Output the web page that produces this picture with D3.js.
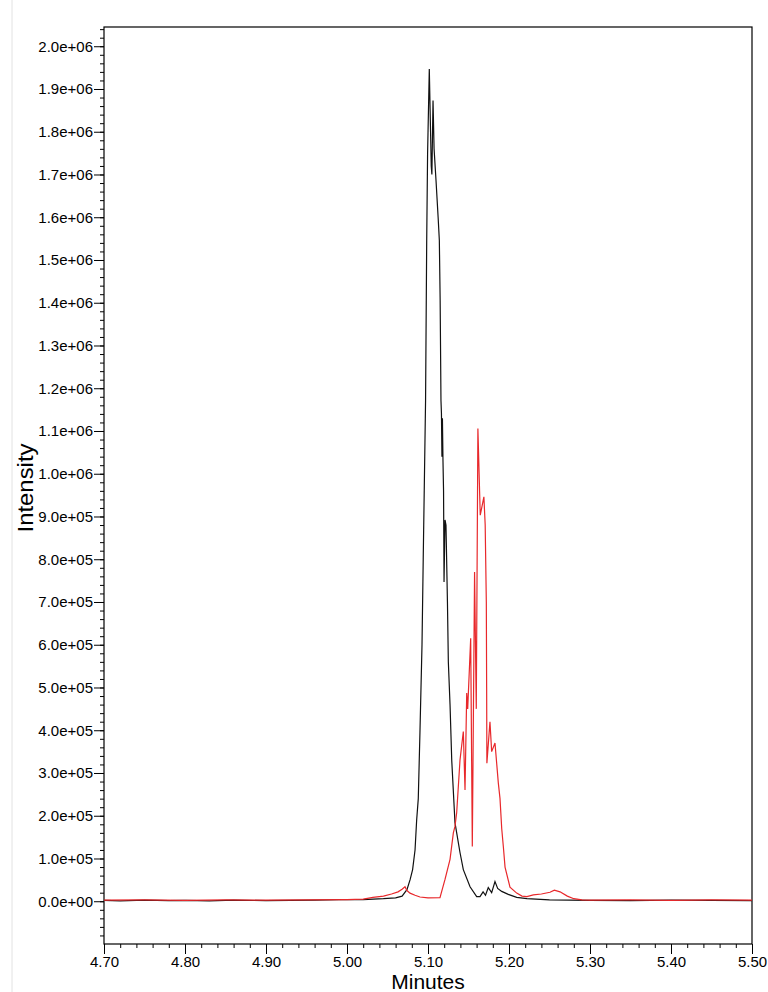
<!DOCTYPE html>
<html>
<head>
<meta charset="utf-8">
<script src="https://cdn.jsdelivr.net/npm/d3@7"></script>
<style>
  body { margin: 0; background: #fff; }
  svg { display: block; font-family: "Liberation Sans", Arial, Helvetica, sans-serif; }
  .axis path, .axis line { stroke: #000; }
  .axis text { fill: #000; font-size: 15px; }
</style>
</head>
<body>
<div id="output"></div>
<script>
(function () {

"use strict";

// retention time (minutes) and intensity for the black trace
var blackTimes = [ 4.700, 4.720, 4.750, 4.780, 4.800, 4.830, 4.860, 4.900, 4.930, 4.960, 4.990, 5.020, 5.045, 5.060, 5.068,
  5.074, 5.078, 5.081, 5.084, 5.086, 5.088, 5.090, 5.0926, 5.0941, 5.0970, 5.0984, 5.0995, 5.1016, 5.1040, 5.1048, 5.1062,
  5.1075, 5.1099, 5.1125, 5.1140, 5.1150, 5.1160, 5.1166, 5.1172, 5.1178, 5.1185, 5.1192, 5.1198, 5.1210, 5.1222, 5.1240,
  5.1251, 5.1272, 5.1293, 5.1333, 5.1395, 5.1436, 5.1519, 5.1601, 5.1642, 5.1680, 5.1710, 5.1744, 5.1786, 5.1827, 5.1860,
  5.1910, 5.1991, 5.2095, 5.2222, 5.2500, 5.3000, 5.3500, 5.4000, 5.4500, 5.5000 ]
var blackValues = [ 2000, 1000, 2500, 1500, 2000, 1000, 2500, 1500, 2000, 2500, 3500, 4000, 6000, 8000, 12000,
  27000, 51000, 74000, 120000, 190000, 240000, 390000, 600000, 800000, 1172000, 1546000, 1750000, 1947000, 1720000, 1700000, 1873000,
  1760000, 1686000, 1600000, 1546000, 1406000, 1172000, 1141000, 1040000, 1130000, 1030000, 960000, 747000, 892000, 880000, 700000,
  560000, 460000, 330000, 184000, 114000, 74000, 34000, 11000, 11000, 22000, 14000, 32000, 20000, 46000, 30000,
  23000, 16000, 9000, 6000, 3000, 2000, 1500, 2500, 2000, 1500 ]

// retention time (minutes) and intensity for the red trace
var redTimes = [ 4.700, 4.750, 4.800, 4.850, 4.900, 4.950, 5.000, 5.020, 5.032, 5.045, 5.055, 5.063, 5.068, 5.0716, 5.074,
  5.0778, 5.084, 5.0901, 5.1000, 5.1148, 5.1210, 5.1272, 5.1313, 5.1333, 5.1354, 5.1395, 5.1436, 5.1457, 5.1478, 5.1490,
  5.1527, 5.1547, 5.1575, 5.1596, 5.1616, 5.1645, 5.1690, 5.1706, 5.1720, 5.1724, 5.1727, 5.1765, 5.1786, 5.1827, 5.1868,
  5.1889, 5.1910, 5.1930, 5.1951, 5.2012, 5.2095, 5.2160, 5.2222, 5.2300, 5.2400, 5.2506, 5.2560, 5.2630, 5.2720, 5.2800,
  5.2900, 5.3000, 5.3500, 5.4000, 5.4500, 5.5000 ]
var redValues = [ 2500, 3000, 2000, 3000, 2500, 3000, 4000, 5000, 8900, 12000, 17000, 22000, 28000, 34000, 25000,
  19000, 14000, 10000, 8000, 8600, 51000, 98000, 160000, 175000, 207000, 330000, 397000, 260000, 487000, 450000,
  615000, 128000, 770000, 450000, 1106000, 903000, 946000, 880000, 700000, 500000, 323000, 420000, 350000, 370000, 277000,
  240000, 170000, 128000, 80000, 33000, 19000, 12000, 11000, 15000, 17000, 21000, 26000, 22000, 12000, 6000,
  3000, 2500, 3000, 2000, 3000, 2500 ]

var xTicks = [ 4.70, 4.80, 4.90, 5.00, 5.10, 5.20, 5.30, 5.40, 5.50 ]
var yTicks = [ 0, 1e5, 2e5, 3e5, 4e5, 5e5, 6e5, 7e5, 8e5, 9e5, 1e6, 1.1e6, 1.2e6, 1.3e6, 1.4e6, 1.5e6, 1.6e6, 1.7e6, 1.8e6, 1.9e6, 2e6 ]

var width = 768
  , height = 992
  , left = 104, right = 752, top = 27, bottom = 944

var svg = d3.select("#output").append("svg").attr("width", width).attr("height", height)

// faint page edge on the left
svg.append("line")
  .attr("x1", 12).attr("x2", 12).attr("y1", 0).attr("y2", height)
  .style("stroke", "#e2e2e2")

var x = d3.scaleLinear().domain([4.70, 5.50]).range([left, right])
  , y = d3.scaleLinear().domain([-1e5, 2.045e6]).range([bottom, top])

function expFormat(v) {
  var s = v.toExponential(1)
    , parts = s.split("e")
    , exp = parts[1]
    , sign = exp.charAt(0)
    , digits = exp.slice(1)
  if (digits.length < 2) digits = "0" + digits
  return parts[0] + "e" + sign + digits
}

// minor ticks first, majors drawn over them
svg.append("g")
  .attr("class", "axis")
  .attr("transform", "translate(" + left + ",0)")
  .call(d3.axisLeft(y).tickValues(d3.range(-8e4, 2.045e6, 2e4)).tickSize(4).tickFormat(""))
  .select(".domain").remove()

svg.append("g")
  .attr("class", "axis")
  .attr("transform", "translate(0," + bottom + ")")
  .call(d3.axisBottom(x).tickValues(d3.range(4.72, 5.50, 0.02)).tickSize(4).tickFormat(""))
  .select(".domain").remove()

svg.append("g")
  .attr("class", "axis")
  .attr("transform", "translate(" + left + ",0)")
  .call(d3.axisLeft(y).tickValues(yTicks).tickSize(10).tickPadding(1).tickFormat(expFormat))
  .select(".domain").remove()

svg.append("g")
  .attr("class", "axis")
  .attr("transform", "translate(0," + bottom + ")")
  .call(d3.axisBottom(x).tickValues(xTicks).tickSize(10).tickPadding(2).tickFormat(d3.format(".2f")))
  .select(".domain").remove()

// plot frame
svg.append("rect")
  .attr("x", left).attr("y", top)
  .attr("width", right - left).attr("height", bottom - top)
  .style("fill", "none").style("stroke", "#000").style("stroke-width", 1.2)

var line = d3.line()
  .x(function (d) { return x(d[0]) })
  .y(function (d) { return y(d[1]) })

svg.append("path")
  .datum(d3.zip(blackTimes, blackValues))
  .attr("d", line)
  .style("fill", "none").style("stroke", "#111").style("stroke-width", 1.2)

svg.append("path")
  .datum(d3.zip(redTimes, redValues))
  .attr("d", line)
  .style("fill", "none").style("stroke", "#e8282b").style("stroke-width", 1.2)

// axis titles
svg.append("text")
  .attr("transform", "translate(33,488) rotate(-90)")
  .attr("text-anchor", "middle")
  .attr("textLength", 89).attr("lengthAdjust", "spacingAndGlyphs")
  .style("font-size", "22px")
  .text("Intensity")

svg.append("text")
  .attr("x", (left + right) / 2).attr("y", 989)
  .attr("text-anchor", "middle")
  .style("font-size", "21px")
  .text("Minutes")

}())
</script>
</body>
</html>
